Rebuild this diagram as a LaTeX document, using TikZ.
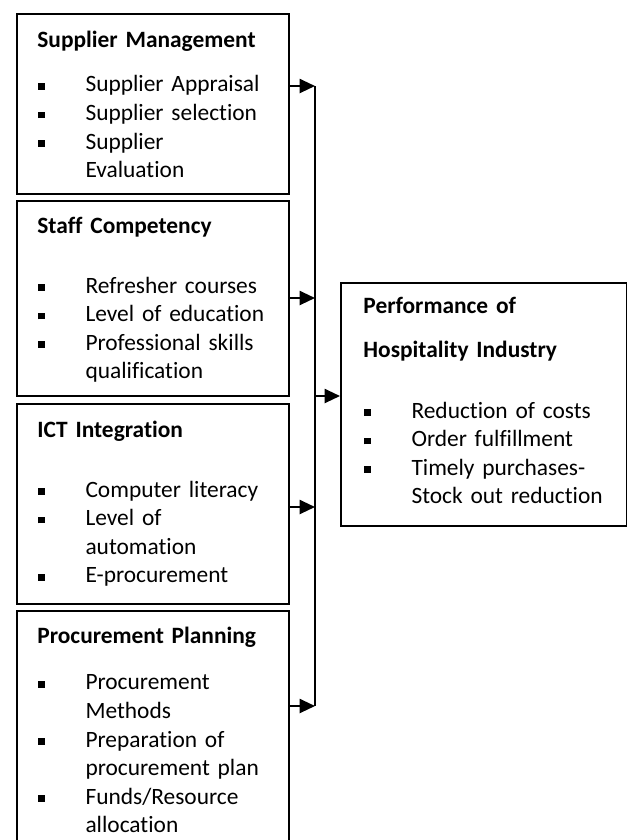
\documentclass[tikz,border=0pt]{standalone}
\usepackage{fontspec}
\setmainfont{Carlito}[Ligatures={NoCommon}]
\usepackage{tikz}
\usetikzlibrary{arrows.meta,positioning}

\newcommand{\itm}{\makebox[22.6pt][l]{\hspace{0.5pt}\rule[1.1pt]{3.1pt}{3.1pt}}}
\newcommand{\cnt}{\hspace*{22.6pt}}

\begin{document}
\begin{tikzpicture}[x=0.47pt,y=-0.47pt,
    factor/.style={draw,line width=0.9pt,anchor=north west,inner sep=0pt,minimum width=127.8pt},
    listing/.style={anchor=base west,inner sep=0pt,text width=125pt,align=left,font=\fontsize{11}{13.44}\selectfont},
    flow/.style={line width=0.9pt,-{Triangle[length=7.2pt,width=6.6pt]}}]
          \useasboundingbox (0,0) rectangle (627,840);
          \clip (0,0) rectangle (627,840);
          % boxes
          \node[factor,minimum height=84.6pt] (sm) at (16,13) {};
          \node[factor,minimum height=91.6pt] (sc) at (16,200) {};
          \node[factor,minimum height=94pt] (ict) at (16,403) {};
          \node[factor,minimum height=115pt] (pp) at (16,610) {};
          \node[factor,minimum width=134.4pt,minimum height=114.2pt] (perf) at (340,282) {};

          \node[listing] (sm-t) at (37,47) {\textbf{Supplier Management}\\[7.7pt]
            \itm Supplier Appraisal\\ \itm Supplier selection\\ \itm Supplier\\ \cnt Evaluation};
          \node[listing] (sc-t) at (37,233) {\textbf{Staff Competency}\\[14.8pt]
            \itm Refresher courses\\ \itm Level of education\\ \itm Professional skills\\ \cnt qualification};
          \node[listing] (ict-t) at (37,437) {\textbf{ICT Integration}\\[14.8pt]
            \itm Computer literacy\\ \itm Level of\\ \cnt automation\\ \itm E-procurement};
          \node[listing] (pp-t) at (37,643) {\textbf{Procurement Planning}\\[8.6pt]
            \itm Procurement\\ \cnt Methods\\ \itm Preparation of\\ \cnt procurement plan\\
            \itm Funds/Resource\\ \cnt allocation};
          \node[listing] (perf-t) at (363,313) {\textbf{Performance of}\\[7.7pt]
            \textbf{Hospitality Industry}\\[14.8pt]
            \itm Reduction of costs\\ \itm Order fulfillment\\ \itm Timely purchases-\\ \cnt Stock out reduction};

          % % joining line and arrows
          \coordinate (b1) at (315,86);
          \coordinate (b2) at (315,298);
          \coordinate (b3) at (315,507);
          \coordinate (b4) at (315,706);
          \coordinate (b5) at (315,396);
          \draw[line width=0.9pt] (b1) -- (b4);
          \draw[flow] (sm.east |- b1) -- (b1);
          \draw[flow] (sc.east |- b2) -- (b2);
          \draw[flow] (ict.east |- b3) -- (b3);
          \draw[flow] (pp.east |- b4) -- (b4);
          \draw[flow] (b5) -- (perf.west |- b5);
        \end{tikzpicture}
\end{document}
